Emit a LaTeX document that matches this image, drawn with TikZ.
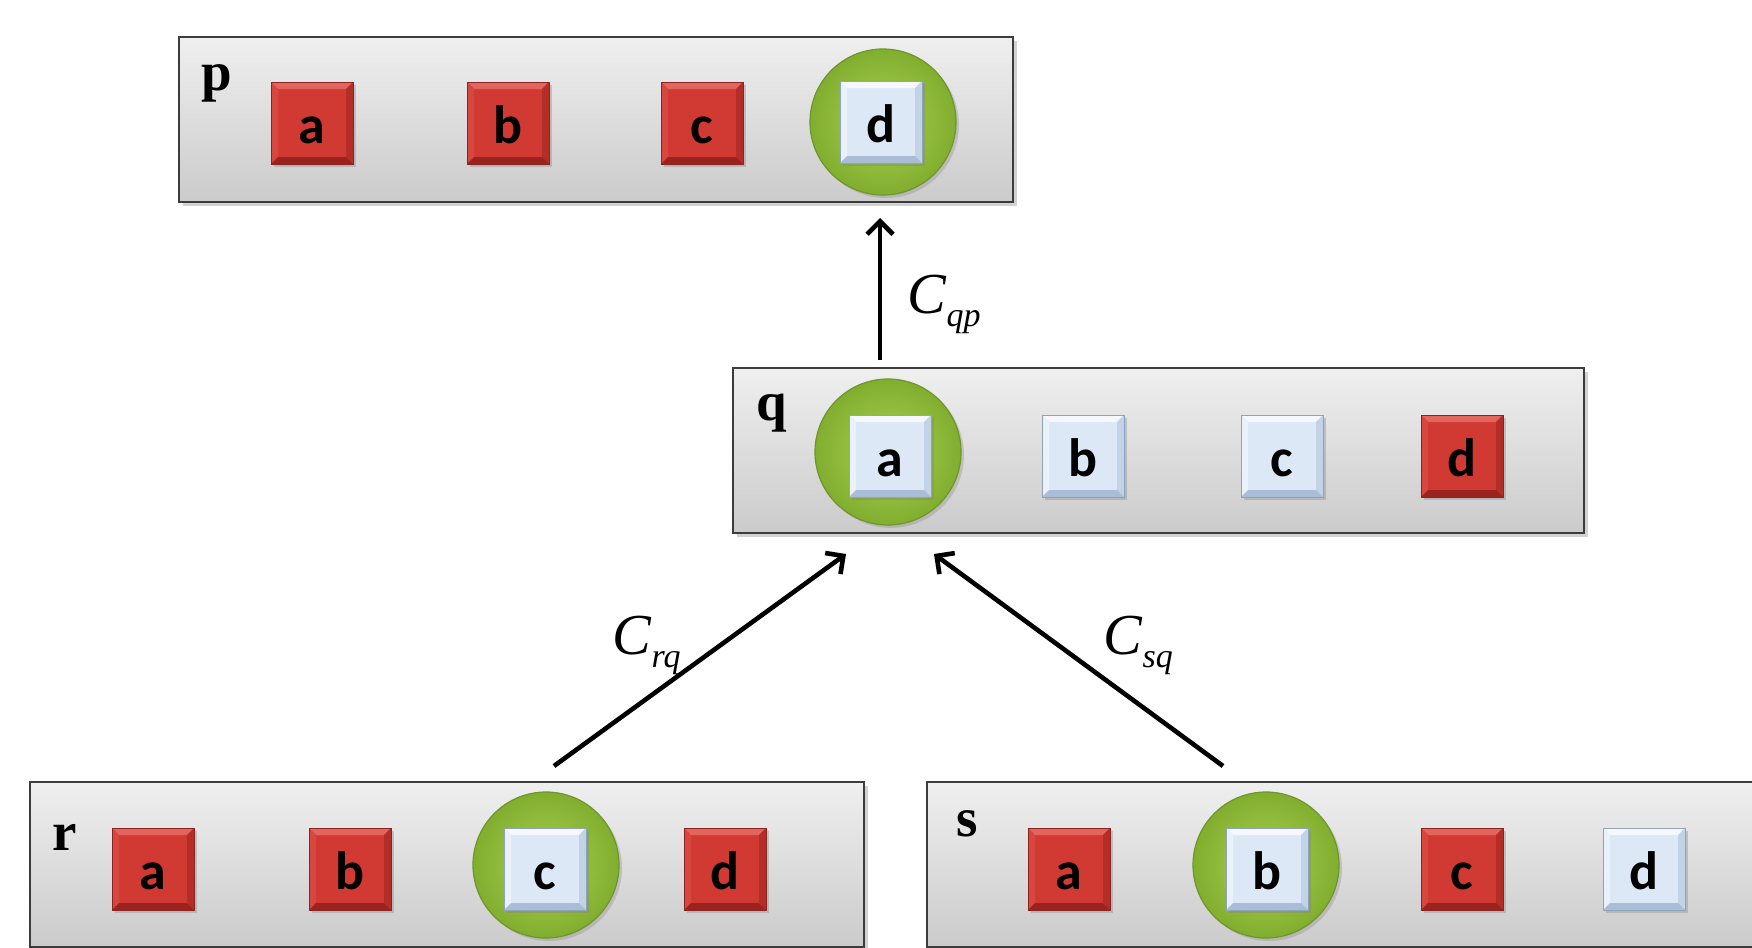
\documentclass[tikz,border=0pt]{standalone}
\usepackage{fontspec}
\setmainfont{Liberation Serif}
\newfontfamily\keyfont{Carlito}
\usetikzlibrary{shadows,arrows.meta}
\definecolor{paneltop}{HTML}{EFEFEF}
\definecolor{panelbot}{HTML}{CBCBCB}
\definecolor{panelline}{HTML}{3C3C3C}
\definecolor{redc}{HTML}{D03A33}
\definecolor{redt}{HTML}{E4655E}
\definecolor{redl}{HTML}{D74740}
\definecolor{redr}{HTML}{B52D27}
\definecolor{redb}{HTML}{9A231F}
\definecolor{redline}{HTML}{8A2420}
\definecolor{bluec}{HTML}{DCE8F6}
\definecolor{bluet}{HTML}{F5F9FE}
\definecolor{bluel}{HTML}{E9F1FB}
\definecolor{bluer}{HTML}{C3D3E7}
\definecolor{blueb}{HTML}{AABDD6}
\definecolor{blueline}{HTML}{8FA3BD}
\definecolor{greenin}{HTML}{A6D04E}
\definecolor{greenout}{HTML}{82AE30}
\definecolor{greenline}{HTML}{6E9628}
\newcommand\clab[1]{\textit{C}\raisebox{-6.5pt}{\fontsize{17pt}{17pt}\selectfont\textit{#1}}}
\begin{document}
\begin{tikzpicture}[x=0.5pt,y=-0.5pt,
  panel/.style={rectangle, inner sep=0pt, minimum width=417pt, minimum height=82.5pt,
    top color=paneltop, bottom color=panelbot, draw=panelline, line width=1pt,
    drop shadow={shadow xshift=2pt, shadow yshift=-2pt, opacity=0.35}},
  panellabel/.style={inner sep=0pt, font=\fontsize{27.5pt}{27.5pt}\selectfont\bfseries},
  keybox/.style n args={6}{rectangle, inner sep=0pt, minimum size=41pt, fill=#1, draw=#6, line width=0.3pt,
    text height=20pt, text depth=0pt,
    font=\keyfont\fontsize{27pt}{27pt}\selectfont\bfseries,
    drop shadow={shadow xshift=1.5pt, shadow yshift=-1.5pt, opacity=0.35},
    path picture={
      \fill[#2] (path picture bounding box.north west) -- (path picture bounding box.north east)
        -- ([shift={(-3.5pt,-3.5pt)}]path picture bounding box.north east)
        -- ([shift={(3.5pt,-3.5pt)}]path picture bounding box.north west) -- cycle;
      \fill[#3] (path picture bounding box.north west) -- (path picture bounding box.south west)
        -- ([shift={(3.5pt,3.5pt)}]path picture bounding box.south west)
        -- ([shift={(3.5pt,-3.5pt)}]path picture bounding box.north west) -- cycle;
      \fill[#4] (path picture bounding box.north east) -- (path picture bounding box.south east)
        -- ([shift={(-3.5pt,3.5pt)}]path picture bounding box.south east)
        -- ([shift={(-3.5pt,-3.5pt)}]path picture bounding box.north east) -- cycle;
      \fill[#5] (path picture bounding box.south west) -- (path picture bounding box.south east)
        -- ([shift={(-3.5pt,3.5pt)}]path picture bounding box.south east)
        -- ([shift={(3.5pt,3.5pt)}]path picture bounding box.south west) -- cycle;
    }},
  redkey/.style={keybox={redc}{redt}{redl}{redr}{redb}{redline}},
  bluekey/.style={keybox={bluec}{bluet}{bluel}{bluer}{blueb}{blueline}},
  selcirc/.style={circle, inner sep=0pt, minimum size=73pt, inner color=greenin, outer color=greenout,
    draw=greenline, line width=0.6pt,
    drop shadow={shadow xshift=1.5pt, shadow yshift=-1.5pt, opacity=0.3}},
  conn/.style={line width=2.3pt, -{Straight Barb[length=6.5pt,width=13pt]}},
  clabel/.style={inner sep=0pt, font=\fontsize{29pt}{29pt}\selectfont}
]
\useasboundingbox (0,0) rectangle (1752,948);
\clip (0,0) rectangle (1752,948);
\fill[white] (0,0) rectangle (1752,948);

% panels
\node[panel] (p) at (596,119.5) {};
\node[panel, minimum width=425.5pt] (q) at (1158.5,450.5) {};
\node[panel] (r) at (447,864) {};
\node[panel] (s) at (1344,864) {};

\node[panellabel, anchor=base west] (plab) at (201,90) {p};
\node[panellabel, anchor=base west] (qlab) at (756,420) {q};
\node[panellabel, anchor=base west] (rlab) at (52,850) {r};
\node[panellabel, anchor=base west] (slab) at (956,836) {s};

% selection circles
\node[selcirc] (pcirc) at (883,122) {};
\node[selcirc] (qcirc) at (888,452) {};
\node[selcirc] (rcirc) at (546,865) {};
\node[selcirc] (scirc) at (1266,865) {};

% keys of p
\node[redkey] (pa) at (312,123) {a};
\node[redkey] (pb) at (508,123) {b};
\node[redkey] (pc) at (702,123) {c};
\node[bluekey] (pd) at (881,122) {d};
% keys of q
\node[bluekey] (qa) at (890,456) {a};
\node[bluekey] (qb) at (1083,456) {b};
\node[bluekey] (qc) at (1282,456) {c};
\node[redkey] (qd) at (1462,456) {d};
% keys of r
\node[redkey] (ra) at (153,869) {a};
\node[redkey] (rb) at (350,869) {b};
\node[bluekey] (rc) at (545,869) {c};
\node[redkey] (rd) at (725,869) {d};
% keys of s
\node[redkey] (sa) at (1069,869) {a};
\node[bluekey] (sb) at (1267,869) {b};
\node[redkey] (sc) at (1462,869) {c};
\node[bluekey] (sd) at (1644,869) {d};

% connectors
\coordinate (qtail) at (880,360);
\coordinate (phead) at (880,218);
\coordinate (rtail) at (554,766);
\coordinate (qheadl) at (846,554);
\coordinate (stail) at (1223,766);
\coordinate (qheadr) at (934,554);
\draw[conn] (qtail) -- (phead);
\draw[conn] (rtail) -- (qheadl);
\draw[conn] (stail) -- (qheadr);

\node[clabel, anchor=base west] (lqp) at (907,313) {\clab{qp}};
\node[clabel, anchor=base west] (lrq) at (612,654) {\clab{rq}};
\node[clabel, anchor=base west] (lsq) at (1103,654) {\clab{sq}};
\end{tikzpicture}
\end{document}
